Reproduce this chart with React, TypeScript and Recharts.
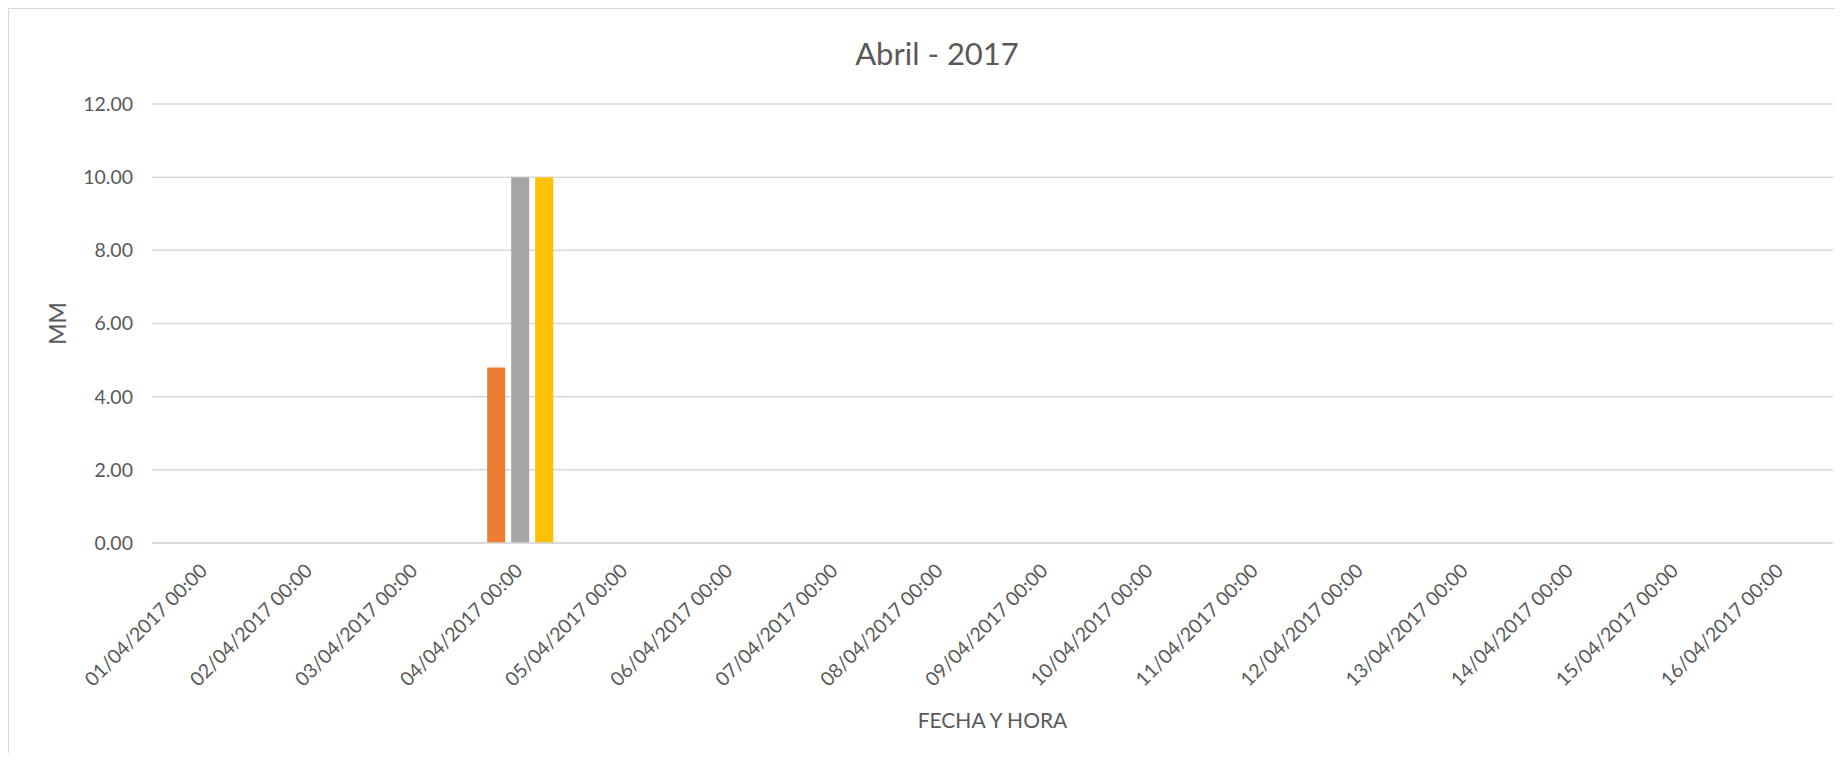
import React from 'react';
import { BarChart, Bar, XAxis, YAxis, CartesianGrid, Label } from 'recharts';

const fechas = [
  '01/04/2017 00:00', '02/04/2017 00:00', '03/04/2017 00:00', '04/04/2017 00:00',
  '05/04/2017 00:00', '06/04/2017 00:00', '07/04/2017 00:00', '08/04/2017 00:00',
  '09/04/2017 00:00', '10/04/2017 00:00', '11/04/2017 00:00', '12/04/2017 00:00',
  '13/04/2017 00:00', '14/04/2017 00:00', '15/04/2017 00:00', '16/04/2017 00:00',
];
const serieNaranja = [0, 0, 0, 4.8, 0, 0, 0, 0, 0, 0, 0, 0, 0, 0, 0, 0];
const serieGris = [0, 0, 0, 10, 0, 0, 0, 0, 0, 0, 0, 0, 0, 0, 0, 0];
const serieAmarilla = [0, 0, 0, 10, 0, 0, 0, 0, 0, 0, 0, 0, 0, 0, 0, 0];
const yTicks = [0, 2, 4, 6, 8, 10, 12];

const data = fechas.map((fecha, i) => ({
  fecha,
  naranja: serieNaranja[i],
  gris: serieGris[i],
  amarilla: serieAmarilla[i],
}));

const FONT = 'Lato, "Open Sans", sans-serif';
const TEXT = '#595959';
const GRID = '#d9d9d9';

function FechaTick(props: any) {
  const { x, y, payload } = props;
  const tx = x + 4;
  const ty = y + 21;
  return (
    <text
      x={tx}
      y={ty}
      transform={`rotate(-45, ${tx}, ${ty})`}
      textAnchor="end"
      fill={TEXT}
      fontSize={19.5}
      fontFamily={FONT}
    >
      {payload.value}
    </text>
  );
}

export default function App() {
  return (
    <div
      style={{
        position: 'relative',
        width: 1826,
        height: 744,
        borderTop: `1px solid ${GRID}`,
        borderLeft: `1px solid ${GRID}`,
        background: '#fff',
        fontFamily: FONT,
      }}
    >
      <div
        style={{
          position: 'absolute',
          left: 628,
          width: 600,
          top: 29,
          textAlign: 'center',
          fontSize: 31,
          lineHeight: '31px',
          color: TEXT,
        }}
      >
        Abril - 2017
      </div>
      <BarChart
        width={1826}
        height={744}
        data={data}
        margin={{ top: 95, right: 2, left: 0, bottom: 0 }}
        barSize={18}
        barGap={6}
      >
        <CartesianGrid vertical={false} stroke={GRID} strokeWidth={1.5} />
        <XAxis
          dataKey="fecha"
          height={210}
          interval={0}
          axisLine={{ stroke: GRID, strokeWidth: 1.5 }}
          tickLine={false}
          tick={<FechaTick />}
        >
          <Label
            content={({ viewBox }: any) => (
              <text
                x={viewBox.x + viewBox.width / 2}
                y={viewBox.y + 185}
                textAnchor="middle"
                fill={TEXT}
                fontSize={21}
                fontFamily={FONT}
              >
                FECHA Y HORA
              </text>
            )}
          />
        </XAxis>
        <YAxis
          width={143}
          domain={[0, 12]}
          ticks={yTicks}
          tickFormatter={(v: number) => v.toFixed(2)}
          axisLine={false}
          tickLine={false}
          tickMargin={13}
          tick={{ fill: TEXT, fontSize: 19.5, fontFamily: FONT }}
        >
          <Label
            content={({ viewBox }: any) => {
              const cy = viewBox.y + viewBox.height / 2;
              return (
                <text
                  x={48}
                  y={cy}
                  transform={`rotate(-90, 48, ${cy})`}
                  textAnchor="middle"
                  dominantBaseline="central"
                  fill={TEXT}
                  fontSize={23}
                  fontFamily={FONT}
                >
                  MM
                </text>
              );
            }}
          />
        </YAxis>
        <Bar dataKey="naranja" fill="#ED7D31" isAnimationActive={false} />
        <Bar dataKey="gris" fill="#A5A5A5" isAnimationActive={false} />
        <Bar dataKey="amarilla" fill="#FFC000" isAnimationActive={false} />
      </BarChart>
    </div>
  );
}
